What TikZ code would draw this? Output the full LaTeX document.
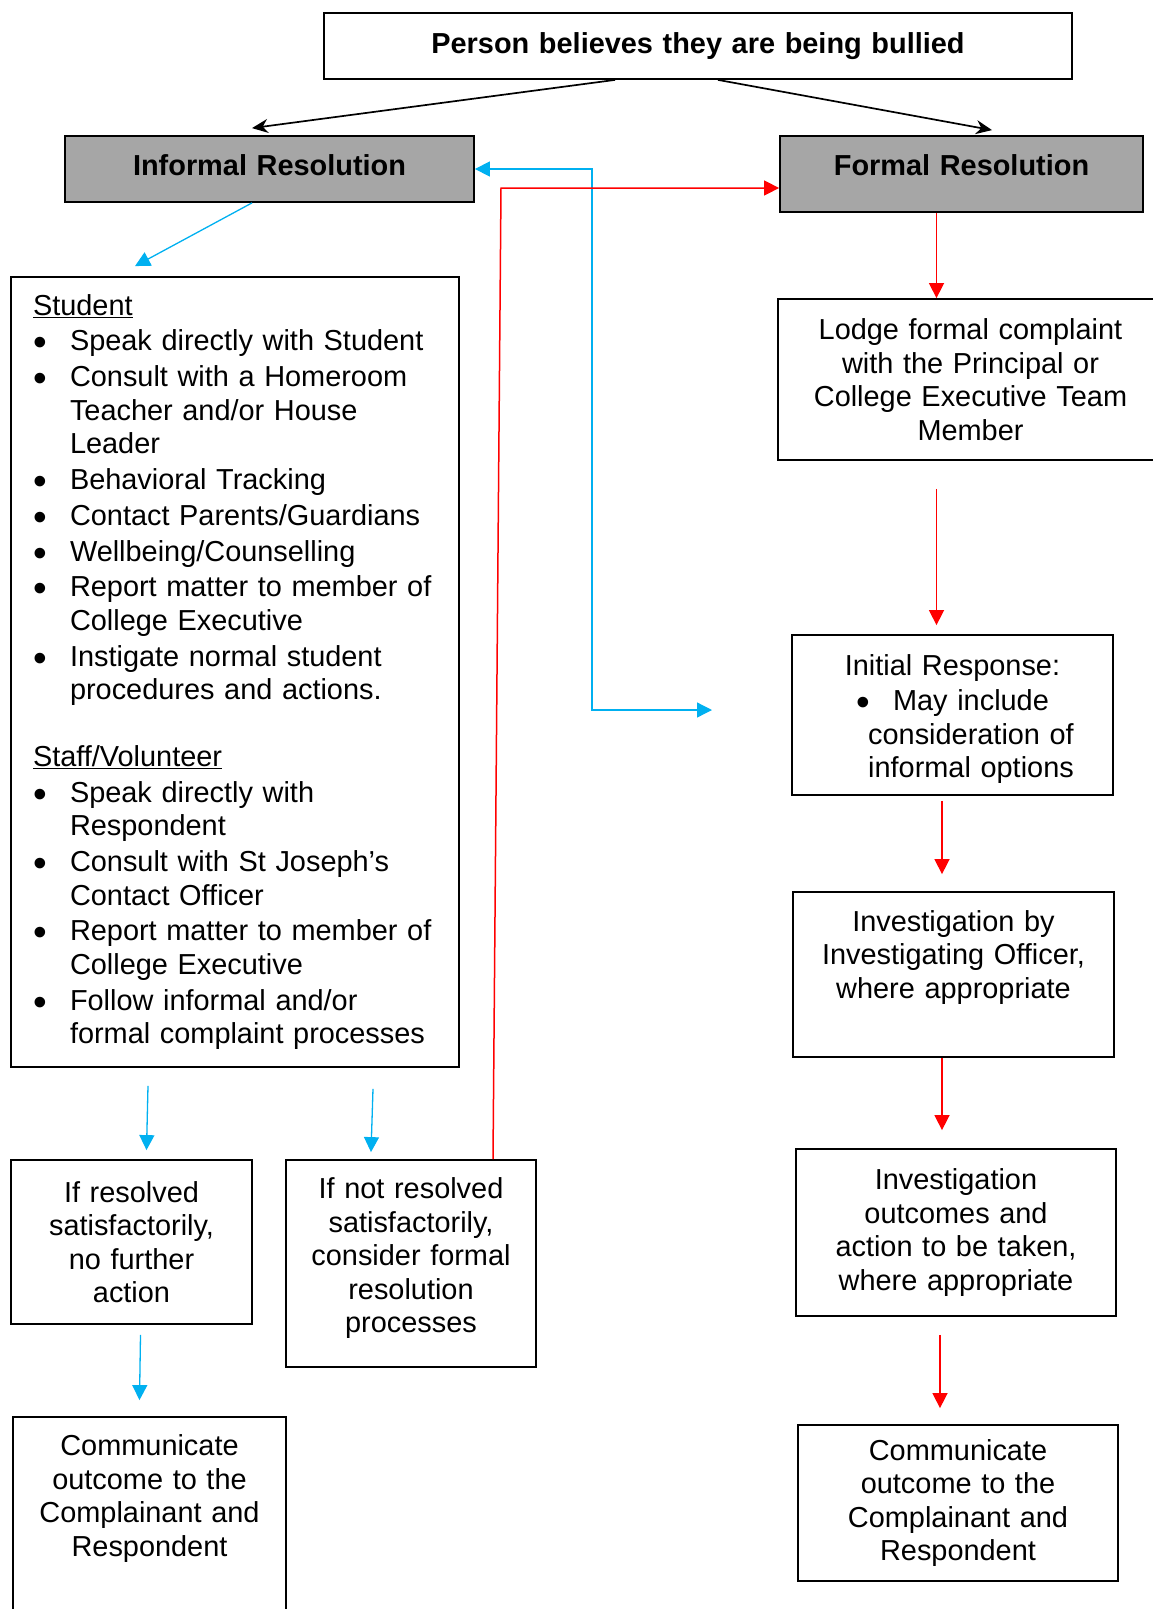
\documentclass[tikz,border=0pt]{standalone}
\usepackage{fontspec}
\usepackage{graphicx}
\setmainfont{Liberation Sans}
\usetikzlibrary{arrows.meta}
\definecolor{infblue}{HTML}{00B0F0}
\definecolor{formred}{HTML}{FF0000}
\definecolor{headgray}{HTML}{A6A6A6}
\newcommand{\bigbul}{\raisebox{-5pt}{\scalebox{1.35}{\textbullet}}}
\newcommand{\bul}{\par\hangindent=37pt\hangafter=1\noindent\makebox[37pt][l]{\bigbul}}

\begin{document}
\begin{tikzpicture}[x=1pt,y=-1pt,font=\fontsize{28.9}{33.5}\selectfont,
  >={Triangle[length=15pt,width=15pt]},
  box/.style={draw,line width=1.8pt,inner xsep=5pt,inner ysep=0pt,align=center},
  head/.style={box,fill=headgray,font=\fontsize{28.9}{33.5}\selectfont\bfseries},
  topline/.style={line width=1.7pt,>={Stealth[length=16pt,width=14pt]}},
  infline/.style={infblue,line width=1.3pt},
  formline/.style={formred,line width=1.5pt}]
\useasboundingbox (0,0) rectangle (1153,1609);

\node[box,font=\fontsize{28.9}{33.5}\selectfont\bfseries,minimum width=748pt,minimum height=66pt,text width=720pt] (top) at (698,46) {Person believes they are being bullied};
\node[head,minimum width=409pt,minimum height=66pt,text width=390pt,text depth=8pt] (inf) at (269.5,169) {Informal Resolution};
\node[head,minimum width=363pt,minimum height=76pt,text width=340pt,text depth=18pt] (form) at (961.5,174) {Formal Resolution};

\node[box,align=left,inner xsep=22pt,minimum width=448pt,minimum height=790pt,text width=404pt] (stu) at (235,672) {\setlength{\parskip}{2.3pt}\underline{Student}
\bul Speak directly with Student
\bul Consult with a Homeroom\newline Teacher and/or House\newline Leader
\bul Behavioral Tracking
\bul Contact Parents/Guardians
\bul Wellbeing/Counselling
\bul Report matter to member of\newline College Executive
\bul Instigate normal student\newline procedures and actions.\par
\vspace{31pt}\noindent\underline{Staff/Volunteer}
\bul Speak directly with\newline Respondent
\bul Consult with St Joseph’s\newline Contact Officer
\bul Report matter to member of\newline College Executive
\bul Follow informal and/or\newline formal complaint processes\par};

\node[box,minimum width=385pt,minimum height=161pt,text width=360pt] (lodge) at (970.5,379.5) {Lodge formal complaint\\with the Principal or\\College Executive Team\\Member};
\node[box,minimum width=321pt,minimum height=160pt,text width=300pt,text depth=100pt] (init) at (952.5,715) {Initial Response:\\[2pt]\hspace*{37pt}\llap{\bigbul\hspace{23pt}}May include\\\hspace*{37pt}consideration of\\\hspace*{37pt}informal options};
\node[box,minimum width=321pt,minimum height=165pt,text width=300pt,text depth=107pt] (invby) at (953.5,974.5) {Investigation by\\Investigating Officer,\\where appropriate};
\node[box,minimum width=320pt,minimum height=167pt,text width=300pt] (invout) at (956,1232.5) {Investigation\\outcomes and\\action to be taken,\\where appropriate};
\node[box,minimum width=320pt,minimum height=156pt,text width=300pt] (commR) at (958,1503) {Communicate\\outcome to the\\Complainant and\\Respondent};

\node[box,minimum width=241pt,minimum height=164pt,text width=225pt] (ifres) at (131.5,1242) {If resolved\\satisfactorily,\\no further\\action};
\node[box,minimum width=250pt,minimum height=207pt,text width=230pt,text depth=150pt] (ifnot) at (411,1263.5) {If not resolved\\satisfactorily,\\consider formal\\resolution\\processes};
\node[box,minimum width=273pt,minimum height=233pt,text width=255pt,text depth=176pt] (commL) at (149.5,1533.5) {Communicate\\outcome to the\\Complainant and\\Respondent};

\coordinate (bluebend) at (592,710);
\coordinate (blueend) at (712,710);
\coordinate (redbend) at (501,188);

\draw[topline,->] ([xshift=-83pt]top.south) -- ([xshift=-17.5pt,yshift=7pt]inf.north);
\draw[topline,->] ([xshift=20pt]top.south) -- ([xshift=30.5pt,yshift=5pt]form.north);

\draw[infline,->] ([xshift=-17.5pt]inf.south) -- ([xshift=-100pt,yshift=10pt]stu.north);
\draw[infline,<->] (inf.east) -| (bluebend) -- (blueend);
\draw[infline,->] ([xshift=-87pt,yshift=-18pt]stu.south) -- ([xshift=15pt,yshift=9pt]ifres.north);
\draw[infline,->] ([xshift=138pt,yshift=-21pt]stu.south) -- ([xshift=-40pt,yshift=7pt]ifnot.north);
\draw[infline,->] ([xshift=9pt,yshift=-10pt]ifres.south) -- ([xshift=-10pt,yshift=16pt]commL.north);

\draw[formline,->] ([xshift=82pt]ifnot.north) -- (redbend) -- (redbend -| form.west);
\draw[formline,->] ([xshift=-25pt]form.south) -- ([xshift=-34pt]lodge.north);
\draw[formline,->] ([xshift=-34pt,yshift=-28pt]lodge.south) -- ([xshift=-16pt,yshift=9pt]init.north);
\draw[formline,->] ([xshift=-10.5pt,yshift=-5pt]init.south) -- ([xshift=-11.5pt,yshift=17pt]invby.north);
\draw[formline,->] ([xshift=-11.5pt]invby.south) -- ([xshift=-14pt,yshift=18pt]invout.north);
\draw[formline,->] ([xshift=-16pt,yshift=-18pt]invout.south) -- ([xshift=-18pt,yshift=16pt]commR.north);

\end{tikzpicture}
\end{document}
